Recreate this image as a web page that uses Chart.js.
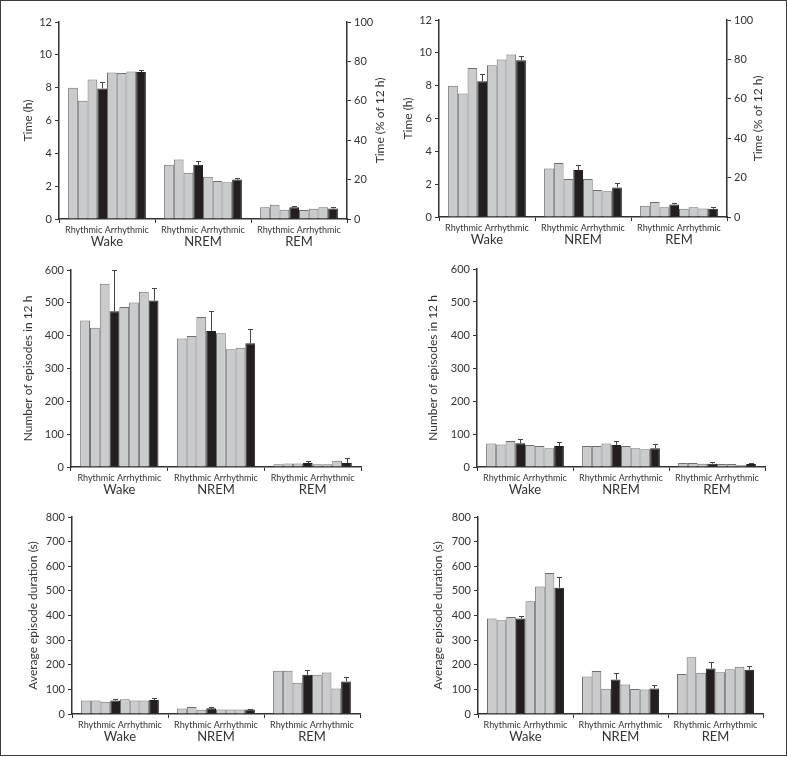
<!DOCTYPE html>
<html>
<head>
<meta charset="utf-8">
<script src="https://cdn.jsdelivr.net/npm/chart.js@4.4.1/dist/chart.umd.min.js"></script>
<style>
  body { margin: 0; background: #fff; }
  #frame { position: absolute; left: 0; top: 0; width: 787px; height: 756px; box-sizing: border-box; border: 1.5px solid #3c3c3c; }
  canvas { position: absolute; }
</style>
</head>
<body>
<div id="frame"></div>
<canvas id="c1"></canvas>
<canvas id="c2"></canvas>
<canvas id="c3"></canvas>
<canvas id="c4"></canvas>
<canvas id="c5"></canvas>
<canvas id="c6"></canvas>
<script>
const groups = ["Wake", "NREM", "REM"];
const subLabel = "Rhythmic Arrhythmic";

// time spent (h), left column; bars 4 and 8 are the black ones
const timeLWake = [8.0, 7.2, 8.5, 7.95, 8.92, 8.9, 8.98, 8.95];
const timeLNrem = [3.3, 3.62, 2.82, 3.3, 2.57, 2.32, 2.24, 2.4];
const timeLRem = [0.72, 0.87, 0.56, 0.72, 0.55, 0.63, 0.72, 0.64];
const timeLErr = [[8.33, 9.08], [3.53, 2.5], [0.8, 0.72]];

// time spent (h), right column
const timeRWake = [8.0, 7.52, 9.08, 8.27, 9.25, 9.6, 9.9, 9.55];
const timeRNrem = [2.96, 3.29, 2.31, 2.86, 2.31, 1.65, 1.57, 1.8];
const timeRRem = [0.68, 0.92, 0.6, 0.76, 0.5, 0.6, 0.52, 0.5];
const timeRErr = [[8.72, 9.8], [3.16, 2.1], [0.86, 0.62]];

// number of episodes in 12 h
const countLWake = [446, 424, 558, 474, 487, 501, 534, 507];
const countLNrem = [391, 399, 457, 414, 407, 359, 363, 377];
const countLRem = [8, 11, 11, 12, 8, 8, 19, 12];
const countLErr = [[600, 546], [476, 420], [17, 27]];

const countRWake = [71, 68, 79, 72, 67, 64, 57, 64];
const countRNrem = [64, 64, 71, 67, 64, 57, 54, 57];
const countRRem = [12, 12, 10, 10, 9, 9, 5, 9];
const countRErr = [[85, 75], [79, 69], [14, 13]];

// average episode duration (s)
const durLWake = [55, 55, 50, 55, 60, 55, 55, 57];
const durLNrem = [22, 28, 17, 23, 18, 18, 18, 18];
const durLRem = [176, 176, 127, 159, 159, 169, 104, 132];
const durLErr = [[62, 63], [28, 22], [178, 152]];

const durRWake = [388, 381, 394, 388, 458, 518, 573, 513];
const durRNrem = [152, 175, 103, 140, 120, 102, 100, 104];
const durRRem = [162, 230, 168, 185, 170, 182, 192, 180];
const durRErr = [[400, 558], [165, 118], [213, 193]];

const GRAY = "#cacbcd", GRAY_LINE = "#6d6e70", BLACK = "#231f20", INK = "#333";
const FONT = "Lato";
Chart.defaults.font.family = FONT;
Chart.defaults.color = INK;

const errorBars = {
  id: "errorBars",
  afterDatasetsDraw(chart) {
    const ctx = chart.ctx, y = chart.scales.y;
    ctx.save();
    ctx.strokeStyle = "#444";
    ctx.lineWidth = 1;
    chart.data.datasets.forEach((ds, i) => {
      if (!ds.errTop) return;
      chart.getDatasetMeta(i).data.forEach((bar, j) => {
        const top = Math.round(y.getPixelForValue(ds.errTop[j])) + 0.5;
        const x = Math.round(bar.x) + 0.5;
        ctx.beginPath();
        ctx.moveTo(x, bar.y);
        ctx.lineTo(x, top);
        ctx.moveTo(x - 2.5, top);
        ctx.lineTo(x + 2.5, top);
        ctx.stroke();
      });
    });
    ctx.restore();
  }
};

// right axis title reads bottom-to-top in the original
const rightTitle = {
  id: "rightTitle",
  afterDraw(chart, args, opts) {
    const s = chart.scales.y2;
    if (!s || !opts.text) return;
    const ctx = chart.ctx;
    ctx.save();
    ctx.translate(opts.x - parseFloat(chart.canvas.style.left), (s.top + s.bottom) / 2);
    ctx.rotate(-Math.PI / 2);
    ctx.font = "12px " + FONT;
    ctx.fillStyle = INK;
    ctx.textAlign = "center";
    ctx.textBaseline = "middle";
    ctx.fillText(opts.text, 0, 0);
    ctx.restore();
  }
};

// the two stacked x axes sit close together, so don't clip their labels to the axis box
const noLabelClip = s => { s._computeLabelArea = () => undefined; };

function makeChart(id, box, opt) {
  const yW = 55, rightW = opt.right ? 42 : 10, padTop = 12, xH = 15, x2H = 22;
  const canvas = document.getElementById(id);
  canvas.width = box.r - box.l + yW + rightW;
  canvas.height = box.b - box.t + padTop + xH + x2H;
  canvas.style.left = (box.l - yW) + "px";
  canvas.style.top = (box.t - padTop) + "px";

  const datasets = [];
  for (let k = 0; k < 8; k++) {
    const dark = k === 3 || k === 7;
    datasets.push({
      data: [opt.wake[k], opt.nrem[k], opt.rem[k]],
      backgroundColor: dark ? BLACK : GRAY,
      borderColor: dark ? BLACK : GRAY_LINE,
      borderWidth: 1,
      categoryPercentage: 0.81,
      barPercentage: 1,
      errTop: dark ? opt.err.map(e => e[k === 3 ? 0 : 1]) : null
    });
  }

  const scales = {
    x: {
      weight: 0,
      border: { color: INK, width: 1.5 },
      grid: { drawOnChartArea: false, tickLength: 4, color: INK },
      ticks: { callback: () => subLabel, font: { size: 9 }, padding: 2, maxRotation: 0, autoSkip: false },
      afterFit: s => { s.height = xH; },
      afterUpdate: noLabelClip
    },
    x2: {
      type: "category",
      labels: groups,
      position: "bottom",
      weight: 1,
      offset: true,
      grid: { display: false, drawTicks: false },
      border: { display: false },
      ticks: { font: { size: 13 }, padding: 0 },
      afterFit: s => { s.height = x2H; },
      afterUpdate: noLabelClip
    },
    y: {
      min: 0,
      max: opt.max,
      border: { color: INK, width: 1.5 },
      grid: { drawOnChartArea: false, tickLength: 4, color: INK },
      ticks: { stepSize: opt.step, font: { size: 11 }, padding: 3 },
      title: { display: true, text: opt.title, font: { size: 12 }, padding: { top: opt.titleX - (box.l - yW) - 7.2, bottom: 0 } },
      afterFit: s => { s.width = yW; }
    }
  };
  if (opt.right) {
    scales.y2 = {
      position: "right",
      min: 0,
      max: 100,
      border: { color: INK, width: 1.5 },
      grid: { drawOnChartArea: false, tickLength: 4, color: INK },
      ticks: { stepSize: 20, font: { size: 11 }, padding: 3 },
      afterFit: s => { s.width = rightW; }
    };
  }

  new Chart(canvas, {
    type: "bar",
    data: { labels: groups, datasets },
    options: {
      responsive: false,
      animation: false,
      layout: { padding: { top: padTop, right: opt.right ? 0 : rightW } },
      plugins: {
        legend: { display: false },
        tooltip: { enabled: false },
        rightTitle: { text: opt.right ? "Time (% of 12 h)" : "", x: opt.rightX }
      },
      scales
    },
    plugins: [errorBars, rightTitle]
  });
}

makeChart("c1", { l: 59, t: 22, r: 347, b: 219 }, {
  wake: timeLWake, nrem: timeLNrem, rem: timeLRem, err: timeLErr,
  max: 12, step: 2, title: "Time (h)", titleX: 28, right: true, rightX: 380
});
makeChart("c2", { l: 439, t: 20, r: 727, b: 217 }, {
  wake: timeRWake, nrem: timeRNrem, rem: timeRRem, err: timeRErr,
  max: 12, step: 2, title: "Time (h)", titleX: 408, right: true, rightX: 758
});
makeChart("c3", { l: 71, t: 270, r: 361, b: 467 }, {
  wake: countLWake, nrem: countLNrem, rem: countLRem, err: countLErr,
  max: 600, step: 100, title: "Number of episodes in 12 h", titleX: 28
});
makeChart("c4", { l: 477, t: 269, r: 765, b: 467 }, {
  wake: countRWake, nrem: countRNrem, rem: countRRem, err: countRErr,
  max: 600, step: 100, title: "Number of episodes in 12 h", titleX: 433
});
makeChart("c5", { l: 72, t: 517, r: 360, b: 714 }, {
  wake: durLWake, nrem: durLNrem, rem: durLRem, err: durLErr,
  max: 800, step: 100, title: "Average episode duration (s)", titleX: 33
});
makeChart("c6", { l: 478, t: 517, r: 763, b: 714 }, {
  wake: durRWake, nrem: durRNrem, rem: durRRem, err: durRErr,
  max: 800, step: 100, title: "Average episode duration (s)", titleX: 438
});
</script>
</body>
</html>
